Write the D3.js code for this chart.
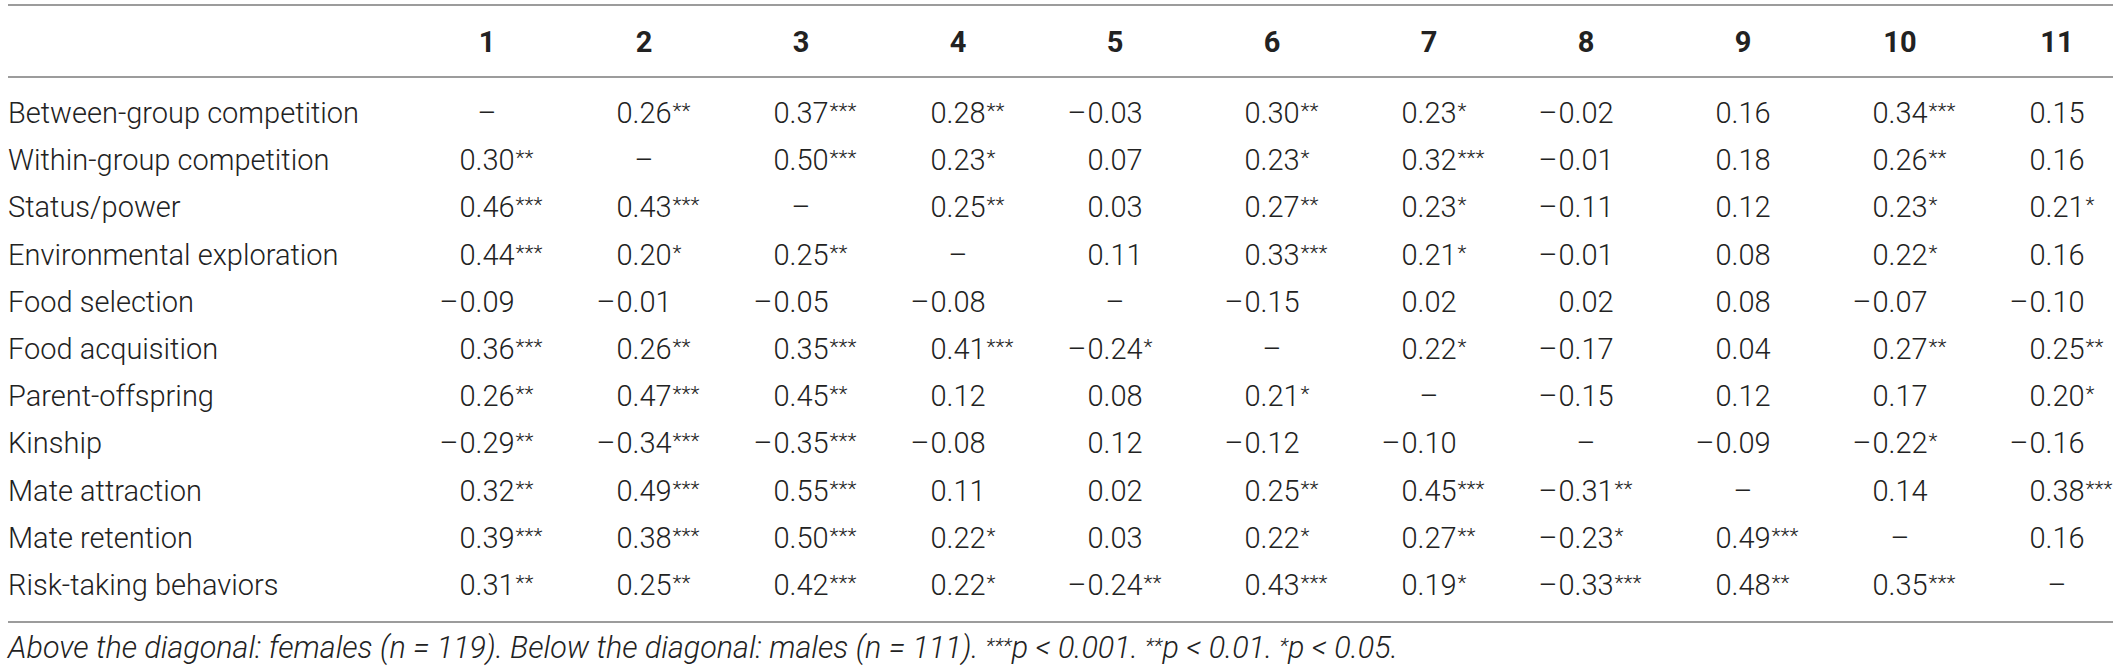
<!DOCTYPE html>
<html>
<head>
<meta charset="utf-8">
<script src="https://cdn.jsdelivr.net/npm/d3@7"></script>
<style>
  html, body { margin: 0; padding: 0; background: #fff; }
  svg { display: block; }
  .label, .cell, .minus, .note { font-family: Roboto, "Liberation Sans", sans-serif; font-weight: 300; fill: #222; }
  .head { font-family: Roboto, "Liberation Sans", sans-serif; font-weight: 700; fill: #222; }
  .rule { stroke: #9c9c9c; stroke-width: 2; }
  .note { font-style: italic; }
</style>
</head>
<body>
<svg id="main-chart"></svg>
<script>
// Table content
var rowLabels = [
  "Between-group competition",
  "Within-group competition",
  "Status/power",
  "Environmental exploration",
  "Food selection",
  "Food acquisition",
  "Parent-offspring",
  "Kinship",
  "Mate attraction",
  "Mate retention",
  "Risk-taking behaviors",
];

var colLabels = ["1", "2", "3", "4", "5", "6", "7", "8", "9", "10", "11"];

// correlations, null = diagonal
var values = [
  [null, 0.26, 0.37, 0.28, -0.03, 0.30, 0.23, -0.02, 0.16, 0.34, 0.15],
  [0.30, null, 0.50, 0.23, 0.07, 0.23, 0.32, -0.01, 0.18, 0.26, 0.16],
  [0.46, 0.43, null, 0.25, 0.03, 0.27, 0.23, -0.11, 0.12, 0.23, 0.21],
  [0.44, 0.20, 0.25, null, 0.11, 0.33, 0.21, -0.01, 0.08, 0.22, 0.16],
  [-0.09, -0.01, -0.05, -0.08, null, -0.15, 0.02, 0.02, 0.08, -0.07, -0.10],
  [0.36, 0.26, 0.35, 0.41, -0.24, null, 0.22, -0.17, 0.04, 0.27, 0.25],
  [0.26, 0.47, 0.45, 0.12, 0.08, 0.21, null, -0.15, 0.12, 0.17, 0.20],
  [-0.29, -0.34, -0.35, -0.08, 0.12, -0.12, -0.10, null, -0.09, -0.22, -0.16],
  [0.32, 0.49, 0.55, 0.11, 0.02, 0.25, 0.45, -0.31, null, 0.14, 0.38],
  [0.39, 0.38, 0.50, 0.22, 0.03, 0.22, 0.27, -0.23, 0.49, null, 0.16],
  [0.31, 0.25, 0.42, 0.22, -0.24, 0.43, 0.19, -0.33, 0.48, 0.35, null],
];

// number of significance stars
var stars = [
  [0, 2, 3, 2, 0, 2, 1, 0, 0, 3, 0],
  [2, 0, 3, 1, 0, 1, 3, 0, 0, 2, 0],
  [3, 3, 0, 2, 0, 2, 1, 0, 0, 1, 1],
  [3, 1, 2, 0, 0, 3, 1, 0, 0, 1, 0],
  [0, 0, 0, 0, 0, 0, 0, 0, 0, 0, 0],
  [3, 2, 3, 3, 1, 0, 1, 0, 0, 2, 2],
  [2, 3, 2, 0, 0, 1, 0, 0, 0, 0, 1],
  [2, 3, 3, 0, 0, 0, 0, 0, 0, 1, 0],
  [2, 3, 3, 0, 0, 2, 3, 2, 0, 0, 3],
  [3, 3, 3, 1, 0, 1, 2, 1, 3, 0, 0],
  [2, 2, 3, 1, 2, 3, 1, 3, 2, 3, 0],
];

var noteParts = [
  { t: "Above the diagonal: females (n = 119). Below the diagonal: males (n = 111). " },
  { t: "***", sup: true },
  { t: "p < 0.001. " },
  { t: "**", sup: true },
  { t: "p < 0.01. " },
  { t: "*", sup: true },
  { t: "p < 0.05." },
];

var width = 2120;
var height = 670;
var fontSize = 29;
var noteSize = 30.5;
var starSize = 21;
var fmt = d3.format(".2f");

var svg = d3.select("#main-chart").attr("width", width).attr("height", height);

// Scales: column centres and row baselines
var xScale = d3.scalePoint().domain(colLabels).range([487, 2057]);
var yScale = d3.scalePoint().domain(rowLabels).range([123, 595]);

var ruleLeft = 8;
var ruleRight = 2113;
var rules = [5, 77, 622];

svg
  .append("g")
  .selectAll("line")
  .data(rules)
  .enter()
  .append("line")
  .attr("class", "rule")
  .attr("x1", ruleLeft)
  .attr("x2", ruleRight)
  .attr("y1", d => d)
  .attr("y2", d => d);

// Header
svg
  .append("g")
  .selectAll("text")
  .data(colLabels)
  .enter()
  .append("text")
  .attr("class", "head")
  .attr("x", d => xScale(d))
  .attr("y", 52)
  .attr("text-anchor", "middle")
  .style("font-size", fontSize + "px")
  .text(d => d);

// Row labels
svg
  .append("g")
  .selectAll("text")
  .data(rowLabels)
  .enter()
  .append("text")
  .attr("class", "label")
  .attr("x", 8)
  .attr("y", d => yScale(d))
  .style("font-size", fontSize + "px")
  .text(d => d);

// measure digit block so minus and stars can hang outside it
var probe = svg.append("text").attr("class", "cell").style("font-size", fontSize + "px").text("0.00");
var half = probe.node().getComputedTextLength() / 2;
probe.remove();

var cells = [];
values.forEach(function (row, i) {
  row.forEach(function (v, j) {
    cells.push({ r: rowLabels[i], c: colLabels[j], v: v, s: stars[i][j] });
  });
});

var cellG = svg
  .append("g")
  .selectAll("g")
  .data(cells)
  .enter()
  .append("g")
  .attr("transform", d => `translate(${xScale(d.c)},${yScale(d.r)})`);

cellG
  .append("text")
  .attr("class", "cell")
  .attr("text-anchor", "middle")
  .style("font-size", fontSize + "px")
  .text(d => (d.v === null ? "\u2013" : fmt(Math.abs(d.v))));

cellG
  .filter(d => d.v !== null && d.v < 0)
  .append("text")
  .attr("class", "minus")
  .attr("x", -half - 1)
  .attr("text-anchor", "end")
  .style("font-size", fontSize + "px")
  .text("\u2013");

cellG
  .filter(d => d.v !== null && d.s > 0)
  .append("text")
  .attr("class", "cell")
  .attr("x", half + 1)
  .attr("y", -5)
  .style("font-size", starSize + "px")
  .text(d => "*".repeat(d.s));

// Footnote
var note = svg
  .append("text")
  .attr("class", "note")
  .attr("x", 8)
  .attr("y", 658)
  .style("font-size", noteSize + "px");

note
  .selectAll("tspan")
  .data(noteParts)
  .enter()
  .append("tspan")
  .style("font-size", d => (d.sup ? starSize + "px" : null))
  .attr("dy", (d, i) => {
    if (d.sup) return -5;
    if (i > 0 && noteParts[i - 1].sup) return 5;
    return 0;
  })
  .text(d => d.t);
</script>
</body>
</html>
